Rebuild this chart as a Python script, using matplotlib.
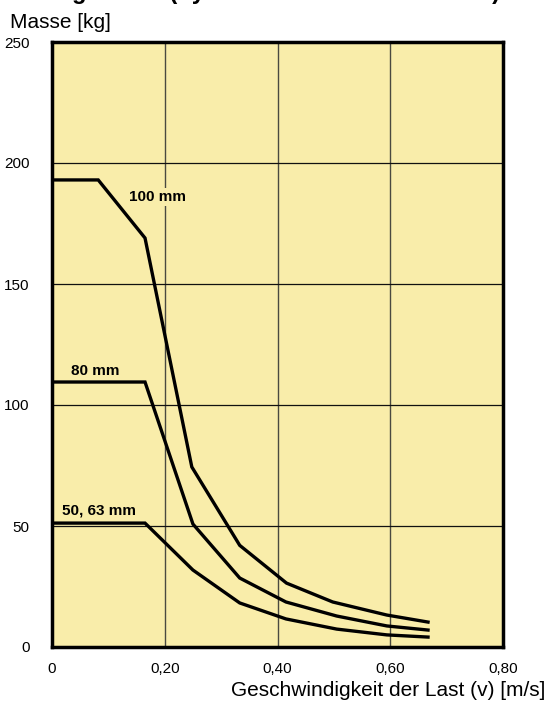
import matplotlib
matplotlib.use("Agg")
import matplotlib.pyplot as plt

# Data
v_100 = [0.0, 0.082, 0.165, 0.248, 0.333, 0.416, 0.498, 0.594, 0.667]
m_100 = [193, 193, 169, 74.4, 42, 26.4, 18.6, 13.2, 10.3]

v_80 = [0.0, 0.165, 0.25, 0.333, 0.415, 0.505, 0.594, 0.667]
m_80 = [109.5, 109.5, 50.8, 28.5, 18.6, 12.8, 8.7, 7.0]

v_50 = [0.0, 0.165, 0.25, 0.333, 0.415, 0.505, 0.594, 0.667]
m_50 = [51.2, 51.2, 31.8, 18.2, 11.6, 7.4, 5.0, 4.1]

curve_labels = ["100 mm", "80 mm", "50, 63 mm"]
x_ticks = [0, 0.2, 0.4, 0.6, 0.8]
x_ticklabels = ["0", "0,20", "0,40", "0,60", "0,80"]
y_ticks = [0, 50, 100, 150, 200, 250]
y_ticklabels = ["0", "50", "100", "150", "200", "250"]

plt.rcParams['font.family'] = ['Liberation Sans', 'DejaVu Sans']

W, H = 547, 704
fig = plt.figure(figsize=(W / 100, H / 100), dpi=100)
left, right, top, bottom = 52, 503, 42, 647
ax = fig.add_axes([left / W, 1 - bottom / H, (right - left) / W, (bottom - top) / H])

bg = '#F9EDAA'
ax.set_facecolor(bg)
ax.set_xlim(0, 0.8)
ax.set_ylim(0, 250)
ax.set_xticks(x_ticks)
ax.set_xticklabels(x_ticklabels, fontsize=11)
ax.set_yticks(y_ticks)
ax.set_yticklabels(y_ticklabels, fontsize=11)
ax.tick_params(length=0)
ax.tick_params(axis='y', pad=16)
ax.tick_params(axis='x', pad=11)

for x in x_ticks[1:-1]:
    ax.axvline(x, color='#4a4a40', lw=1.0, zorder=1)
for y in y_ticks[1:-1]:
    ax.axhline(y, color='#111111', lw=0.9, zorder=1)

for s in ax.spines.values():
    s.set_linewidth(2.5)
    s.set_color('black')
    s.set_zorder(5)

for xs, ys in [(v_100, m_100), (v_80, m_80), (v_50, m_50)]:
    ax.plot(xs, ys, color='black', lw=2.4, solid_joinstyle='miter', zorder=3)

bbox = dict(facecolor=bg, edgecolor='none', pad=1.5)
ax.text(0.188, 186, curve_labels[0], fontsize=11, fontweight='bold', ha='center', va='center', bbox=bbox, zorder=4)
ax.text(0.077, 114, curve_labels[1], fontsize=11, fontweight='bold', ha='center', va='center', zorder=4)
ax.text(0.0825, 56.6, curve_labels[2], fontsize=11, fontweight='bold', ha='center', va='center', zorder=4)

fig.text(10 / W, 1 - 22 / H, "Masse [kg]", fontsize=15, ha='left', va='center')
fig.text(545 / W, 1 - 690 / H, "Geschwindigkeit der Last (v) [m/s]", fontsize=15, ha='right', va='center')
fig.text(500 / W, 1 + 1 / H, "Belastungskurve (dynamische Masse der Last)", fontsize=17,
         fontweight='bold', ha='right', va='baseline')

fig.savefig("out.png", dpi=100)
